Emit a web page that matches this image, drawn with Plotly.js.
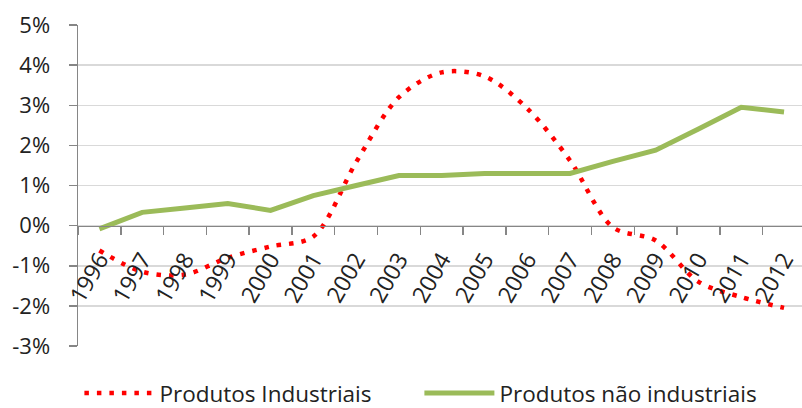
<!DOCTYPE html>
<html>
<head>
<meta charset="utf-8">
<script src="https://cdn.plot.ly/plotly-3.0.1.min.js"></script>
<style>html,body{margin:0;padding:0;background:#fff;}#chart{width:802px;height:408px;}</style>
</head>
<body>
<div id="chart"></div>
<script>
const years = ['1996','1997','1998','1999','2000','2001','2002','2003','2004','2005','2006','2007','2008','2009','2010','2011','2012'];
const produtosIndustriais = [-0.62, -1.15, -1.22, -0.80, -0.52, -0.27, 1.58, 3.20, 3.82, 3.72, 2.92, 1.62, -0.04, -0.37, -1.40, -1.78, -2.05];
const produtosNaoIndustriais = [-0.08, 0.33, 0.44, 0.55, 0.38, 0.75, 1.00, 1.25, 1.25, 1.30, 1.30, 1.30, 1.60, 1.88, 2.41, 2.95, 2.83];
const yTicks = [-3, -2, -1, 0, 1, 2, 3, 4, 5];
const yTickText = ['-3%', '-2%', '-1%', '0%', '1%', '2%', '3%', '4%', '5%'];

const FONT = '"Open Sans", "Liberation Sans", sans-serif';
const TXT = '#222222';

const traces = [
  {
    x: years, y: produtosIndustriais, type: 'scatter', mode: 'lines',
    name: 'Produtos Industriais',
    line: {color: '#ff0000', width: 4.5, dash: '4.5px,8px', shape: 'spline', smoothing: 0.9}
  },
  {
    x: years, y: produtosNaoIndustriais, type: 'scatter', mode: 'lines',
    name: 'Produtos não industriais',
    line: {color: '#9bbb59', width: 5}
  }
];

const layout = {
  width: 802, height: 408,
  margin: {l: 78, r: 0, t: 25, b: 62, pad: 0},
  paper_bgcolor: '#ffffff', plot_bgcolor: '#ffffff',
  font: {family: FONT, size: 22, color: TXT},
  showlegend: true,
  legend: {
    orientation: 'h', xref: 'container', x: 0.099, xanchor: 'left',
    yref: 'container', y: 0.036, yanchor: 'middle',
    itemwidth: 70, entrywidth: 255, entrywidthmode: 'pixels',
    font: {family: FONT, size: 22.5, color: TXT},
    bgcolor: 'rgba(0,0,0,0)', traceorder: 'normal'
  },
  xaxis: {
    type: 'category', range: [-0.5, 16.42],
    anchor: 'free', position: 0.375,
    showline: true, linecolor: '#868686', linewidth: 1.5,
    ticks: 'outside', tickson: 'boundaries', ticklen: 8, tickcolor: '#868686', tickwidth: 1.5,
    tickangle: -60, showgrid: false, zeroline: false,
    ticklabelstandoff: 10,
    tickfont: {family: FONT, size: 23, color: TXT},
    fixedrange: true
  },
  yaxis: {
    range: [-3, 5], tickvals: yTicks, ticktext: yTickText,
    showline: true, linecolor: '#868686', linewidth: 1.5,
    ticks: 'outside', ticklen: 8, tickcolor: '#868686', tickwidth: 1.5,
    showgrid: true, gridcolor: '#d9d9d9', gridwidth: 1.5, zeroline: false,
    ticklabelstandoff: 14,
    tickfont: {family: FONT, size: 22, color: TXT},
    fixedrange: true
  }
};

Plotly.newPlot('chart', traces, layout, {displayModeBar: false, staticPlot: true});
</script>
</body>
</html>
